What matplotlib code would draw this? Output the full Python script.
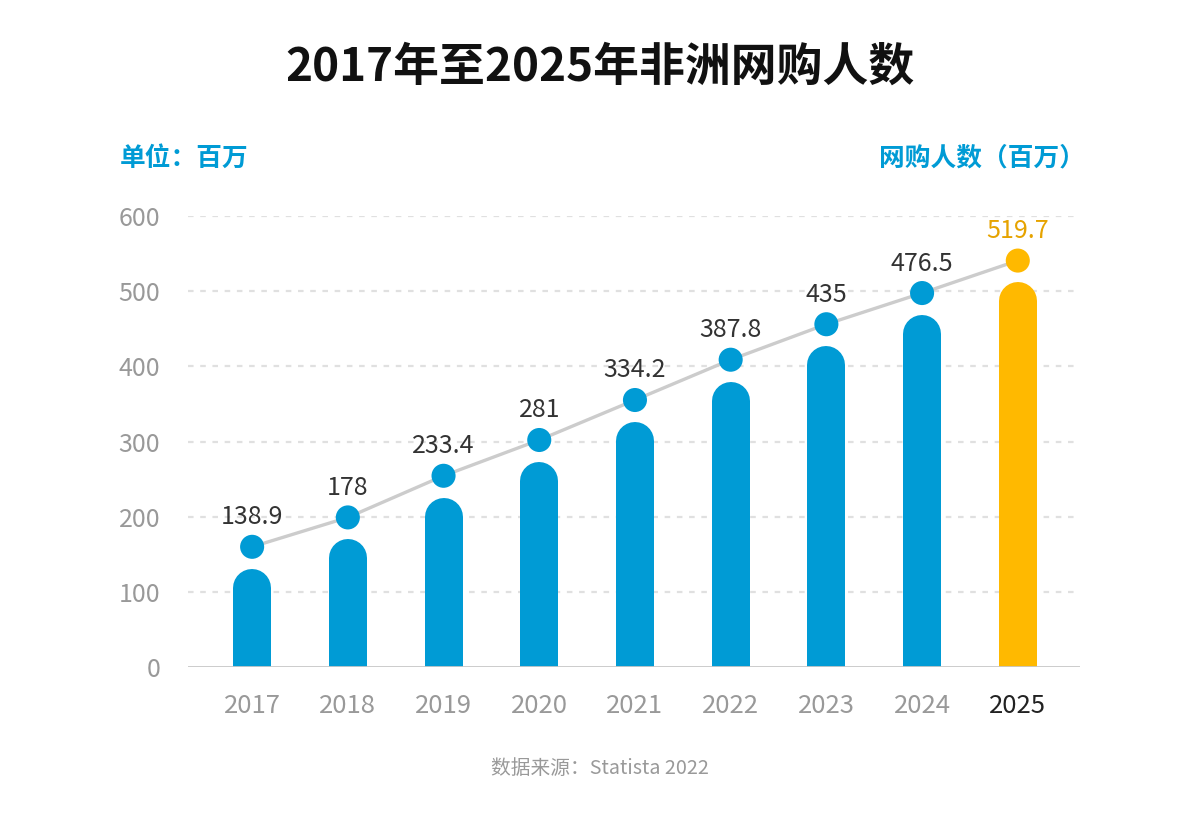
import numpy as np
import matplotlib.pyplot as plt

plt.rcParams['font.family'] = ['Noto Sans CJK SC', 'DejaVu Sans']

# data
years = ['2017', '2018', '2019', '2020', '2021', '2022', '2023', '2024', '2025']
buyers = [138.9, 178, 233.4, 281, 334.2, 387.8, 435, 476.5, 519.7]
labels = ['138.9', '178', '233.4', '281', '334.2', '387.8', '435', '476.5', '519.7']

blue = '#009bd5'
orange = '#ffb900'
colors = [blue] * 8 + [orange]

fig = plt.figure(figsize=(12, 8.23), dpi=100)
W, H = 1200, 823
# axes placed in pixel terms
left, right, bottom, top = 188, 1080, 667, 216
ax = fig.add_axes([left / W, 1 - bottom / H, (right - left) / W, (bottom - top) / H])
ax.set_xlim(-0.67, 8.65)
ax.set_ylim(0, 600)

px_per_unit = (bottom - top) / 600.0
bar_px = 38
cap_r = (bar_px / 2) / px_per_unit
x = np.arange(len(years))

# grid
for v in [100, 200, 300, 400, 500, 600]:
    ax.axhline(v, color='#e0e0e0', lw=1.6, ls=(0, (2.5, 3)), zorder=0)
ax.axhline(0, color='#c8c8c8', lw=2, zorder=3)

# bars as thick lines with round caps
for i, v in enumerate(buyers):
    bar_top = v - 8
    ax.plot([x[i], x[i]], [-50, bar_top - cap_r], color=colors[i],
            lw=bar_px * 0.72, solid_capstyle='round', zorder=2)

# connecting line and dots
dot_y = [v + 21 for v in buyers]
ax.plot(x, dot_y, color='#cccccc', lw=2.4, zorder=4)
ax.scatter(x, dot_y, s=300, c=colors, zorder=5, linewidths=0)

for i, v in enumerate(dot_y):
    c = '#e6a300' if i == len(years) - 1 else '#333333'
    ax.text(x[i], v + 22, labels[i], ha='center', va='bottom', fontsize=18,
            color=c, clip_on=False)

for s in ax.spines.values():
    s.set_visible(False)
ax.set_xticks(x)
ax.set_xticklabels(years, fontsize=18.5, color='#999999')
ax.get_xticklabels()[-1].set_color('#222222')
ax.set_yticks([0, 100, 200, 300, 400, 500, 600])
ax.set_yticklabels(['0', '100', '200', '300', '400', '500', '600'], fontsize=18, color='#999999')
ax.tick_params(length=0)
ax.tick_params(axis='x', pad=19)
ax.tick_params(axis='y', pad=20)

fig.text(0.5, 1 - 68 / H, '2017年至2025年非洲网购人数', ha='center', va='center',
         fontsize=33, fontweight='bold', color='#111111')
fig.text(120 / W, 1 - 158 / H, '单位：百万', ha='left', va='center',
         fontsize=18.5, fontweight='bold', color=blue)
fig.text(1085 / W, 1 - 158 / H, '网购人数（百万）', ha='right', va='center',
         fontsize=18.5, fontweight='bold', color=blue)
fig.text(0.5, 1 - 768 / H, '数据来源：Statista 2022', ha='center', va='center',
         fontsize=14.2, color='#999999')

fig.savefig('out.png', dpi=100)
